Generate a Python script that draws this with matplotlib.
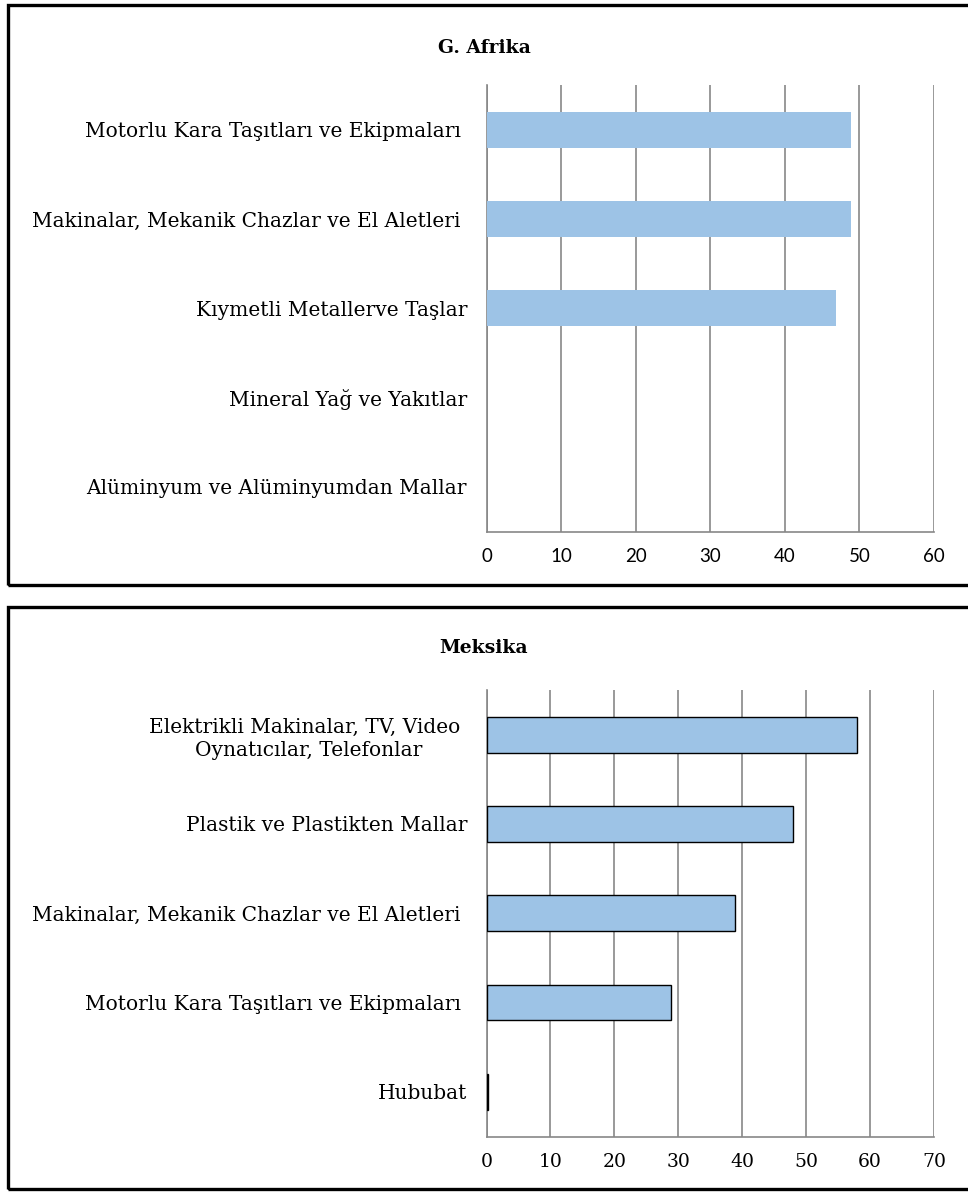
import matplotlib
matplotlib.use("Agg")
import matplotlib.pyplot as plt
from matplotlib.patches import Rectangle

# ---- data ----
afrika_title = "G. Afrika"
afrika_categories = [
    "Motorlu Kara Taşıtları ve Ekipmaları ",
    "Makinalar, Mekanik Chazlar ve El Aletleri ",
    "Kıymetli Metallerve Taşlar",
    "Mineral Yağ ve Yakıtlar",
    "Alüminyum ve Alüminyumdan Mallar",
]
afrika_values = [48.9, 48.9, 46.9, 0.0, 0.1]
afrika_ticks = [0, 10, 20, 30, 40, 50, 60]

meksika_title = "Meksika"
meksika_categories = [
    "Elektrikli Makinalar, TV, Video \nOynatıcılar, Telefonlar",
    "Plastik ve Plastikten Mallar",
    "Makinalar, Mekanik Chazlar ve El Aletleri ",
    "Motorlu Kara Taşıtları ve Ekipmaları ",
    "Hububat",
]
meksika_values = [57.9, 47.9, 38.9, 28.9, 0.3]
meksika_ticks = [0, 10, 20, 30, 40, 50, 60, 70]

W, H = 968, 1193
fig = plt.figure(figsize=(W / 100, H / 100), dpi=100)

BAR_COLOR = "#9DC3E6"
GRID_COLOR = "#878787"
SERIF = ["DejaVu Serif"]


def fx(px):
    return px / W


def fy(py):
    return 1 - py / H


# outer frames
for top, bottom in [(5, 585), (607, 1189)]:
    fig.patches.append(Rectangle((fx(8), fy(bottom)), fx(1200) - fx(8), fy(top) - fy(bottom),
                                 transform=fig.transFigure, fill=False,
                                 edgecolor="black", linewidth=2.4, zorder=0))


def panel(rect, title, title_y, cats, vals, ticks, edge, tick_family):
    ax = fig.add_axes(rect)
    y = list(range(len(cats)))
    if edge:
        ax.barh(y, vals, height=0.4, color=BAR_COLOR, edgecolor="black", linewidth=1.0, zorder=3)
    else:
        ax.barh(y, vals, height=0.4, color=BAR_COLOR, linewidth=0, zorder=3)
    ax.set_ylim(len(cats) - 0.5, -0.5)
    ax.set_xlim(ticks[0], ticks[-1])
    ax.set_xticks(ticks)
    ax.set_xticklabels([str(t) for t in ticks], family=tick_family, fontsize=13.5)
    ax.set_yticks(y)
    ax.set_yticklabels(cats, family=SERIF, fontsize=14.5, ha="right",
                       multialignment="center", linespacing=1.3)
    ax.tick_params(axis="both", length=0)
    ax.tick_params(axis="x", pad=12)
    ax.tick_params(axis="y", pad=14)
    ax.xaxis.grid(True, color=GRID_COLOR, linewidth=1.2, zorder=0)
    ax.set_axisbelow(True)
    for s in ["top", "right"]:
        ax.spines[s].set_visible(False)
    for s in ["left", "bottom"]:
        ax.spines[s].set_color(GRID_COLOR)
        ax.spines[s].set_linewidth(1.2)
    fig.text(0.5, title_y, title, ha="center", va="center", family=SERIF,
             fontweight="bold", fontsize=13.5)
    return ax


panel([fx(486.5), fy(531.5), fx(934) - fx(486.5), fy(85) - fy(531.5)],
      afrika_title, fy(48), afrika_categories, afrika_values, afrika_ticks,
      edge=False, tick_family=["Lato", "DejaVu Sans"])
panel([fx(486.5), fy(1136.5), fx(934) - fx(486.5), fy(690) - fy(1136.5)],
      meksika_title, fy(648), meksika_categories, meksika_values, meksika_ticks,
      edge=True, tick_family=SERIF)

fig.savefig("out.png", dpi=100)
